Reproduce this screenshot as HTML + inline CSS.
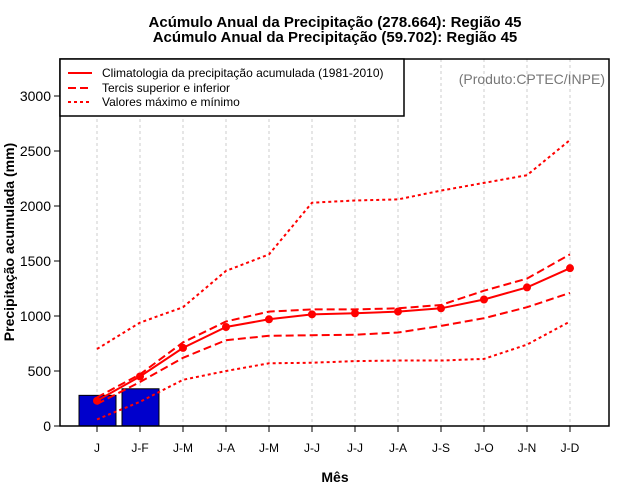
<!DOCTYPE html>
<html><head><meta charset="utf-8"><style>
body{margin:0;background:#fff;}
svg{display:block;font-family:"Liberation Sans",sans-serif;}
</style></head><body>
<svg id="c" width="640" height="500">
<text x="335" y="27" text-anchor="middle" font-size="15" font-weight="bold">Acúmulo Anual da Precipitação (278.664): Região 45</text>
<text x="335" y="42" text-anchor="middle" font-size="15" font-weight="bold">Acúmulo Anual da Precipitação (59.702): Região 45</text>
<g id="grid"></g>
<g id="bars"></g>
<g id="lines"></g>
<g id="axes"></g>
<rect x="60" y="59" width="549" height="367" fill="none" stroke="#000" stroke-width="1.5"/>
<g>
<rect x="60" y="59" width="344" height="57" fill="#fff" stroke="#000" stroke-width="1.5"/>
<line x1="68" y1="73" x2="92" y2="73" stroke="red" stroke-width="2"/>
<text x="102" y="77" font-size="12">Climatologia da precipitação acumulada (1981-2010)</text>
<line x1="68" y1="88" x2="92" y2="88" stroke="red" stroke-width="2" stroke-dasharray="8,4"/>
<text x="102" y="92" font-size="12">Tercis superior e inferior</text>
<line x1="68" y1="102" x2="92" y2="102" stroke="red" stroke-width="2" stroke-dasharray="3,3"/>
<text x="102" y="106" font-size="12">Valores máximo e mínimo</text>
</g>
<text x="605" y="84" text-anchor="end" font-size="14" fill="#777">(Produto:CPTEC/INPE)</text>
<text x="335" y="482" text-anchor="middle" font-size="14" font-weight="bold">Mês</text>
<text transform="translate(14,242) rotate(-90)" text-anchor="middle" font-size="14" font-weight="bold">Precipitação acumulada (mm)</text>
</svg>
<script>
const months=["J","J-F","J-M","J-A","J-M","J-J","J-J","J-A","J-S","J-O","J-N","J-D"];
const yTicks=[0,500,1000,1500,2000,2500,3000];
const observed=[278.664,338.366];
const climatology=[230,450,710,900,970,1015,1025,1040,1070,1150,1260,1435];
const upperTercile=[260,470,760,950,1040,1060,1060,1070,1100,1230,1340,1560];
const lowerTercile=[200,400,620,780,820,825,830,850,910,980,1080,1210];
const maxValues=[700,940,1080,1410,1560,2030,2050,2060,2140,2210,2280,2600];
const minValues=[60,220,420,500,570,575,590,595,595,610,740,950];
const NS="http://www.w3.org/2000/svg";
const X=i=>97+i*43;
const Y=v=>426-v*0.11;
function mk(tag,attrs,parent){const e=document.createElementNS(NS,tag);for(const k in attrs)e.setAttribute(k,attrs[k]);document.getElementById(parent).appendChild(e);return e;}
months.forEach((m,i)=>{
 const g=mk("line",{x1:X(i),x2:X(i),y1:59,y2:426,stroke:"#ccc","stroke-dasharray":"3,3"},"grid");
 
 
 const t=mk("line",{x1:X(i),x2:X(i),y1:426,y2:432,stroke:"#000"},"axes");
 
 
 const l=mk("text",{x:X(i),y:452,"text-anchor":"middle","font-size":"12"},"axes");
 l.textContent=m;
 
 
});
yTicks.forEach(v=>{
 const t=mk("line",{x1:54,x2:60,y1:Y(v),y2:Y(v),stroke:"#000"},"axes");
 
 
 const l=mk("text",{x:51,y:Y(v)+5,"text-anchor":"end","font-size":"14"},"axes");
 l.textContent=v;
 
 
});
observed.forEach((v,i)=>{
 const b=mk("rect",{x:X(i)-18,y:Y(v),width:37,height:426-Y(v),fill:"#0000cc",stroke:"#000"},"bars");
 
 
});
function line(arr,dash,name){
 const p=mk("polyline",{points:arr.map((v,i)=>X(i)+","+Y(v)).join(" "),fill:"none",stroke:"red","stroke-width":2,"stroke-dasharray":dash},"lines");
 
 
}
line(maxValues,"3,3","line-max");
line(minValues,"3,3","line-min");
line(upperTercile,"8,4","line-upper-tercile");
line(lowerTercile,"8,4","line-lower-tercile");
line(climatology,"none","line-climatology");
climatology.forEach((v,i)=>{
 const c=mk("circle",{cx:X(i),cy:Y(v),r:4,fill:"red"},"lines");
 
 
});
</script>
</body></html>
